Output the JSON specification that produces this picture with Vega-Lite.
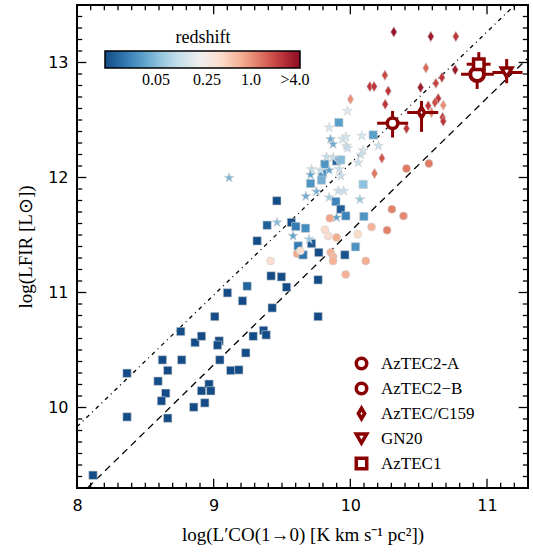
{
  "$schema": "https://vega.github.io/schema/vega-lite/v6.json",
  "autosize": "none",
  "width": 451,
  "height": 483,
  "padding": {"left": 77, "top": 5, "right": 5, "bottom": 70},
  "background": "white",
  "config": {
    "view": {"stroke": "black", "strokeWidth": 2},
    "axis": {"grid": false, "domain": false, "labelColor": "black", "titleColor": "black"}
  },
  "datasets": {
    "dotted": [{"x": 8.0, "y": 9.832}, {"x": 11.2, "y": 13.496}],
    "dashed": [{"x": 8.08, "y": 9.304}, {"x": 11.3, "y": 13.039}],
    "xt": [
      {"v": 8.1, "t": "minor"}, {"v": 8.2, "t": "minor"}, {"v": 8.3, "t": "minor"}, {"v": 8.4, "t": "minor"}, {"v": 8.5, "t": "minor"}, {"v": 8.6, "t": "minor"}, {"v": 8.7, "t": "minor"}, {"v": 8.8, "t": "minor"}, {"v": 8.9, "t": "minor"},
      {"v": 9.0, "t": "major"}, {"v": 9.1, "t": "minor"}, {"v": 9.2, "t": "minor"}, {"v": 9.3, "t": "minor"}, {"v": 9.4, "t": "minor"}, {"v": 9.5, "t": "minor"}, {"v": 9.6, "t": "minor"}, {"v": 9.7, "t": "minor"}, {"v": 9.8, "t": "minor"}, {"v": 9.9, "t": "minor"},
      {"v": 10.0, "t": "major"}, {"v": 10.1, "t": "minor"}, {"v": 10.2, "t": "minor"}, {"v": 10.3, "t": "minor"}, {"v": 10.4, "t": "minor"}, {"v": 10.5, "t": "minor"}, {"v": 10.6, "t": "minor"}, {"v": 10.7, "t": "minor"}, {"v": 10.8, "t": "minor"}, {"v": 10.9, "t": "minor"},
      {"v": 11.0, "t": "major"}, {"v": 11.1, "t": "minor"}, {"v": 11.2, "t": "minor"}
    ],
    "yt": [
      {"v": 9.4, "t": "minor"}, {"v": 9.5, "t": "minor"}, {"v": 9.6, "t": "minor"}, {"v": 9.7, "t": "minor"}, {"v": 9.8, "t": "minor"}, {"v": 9.9, "t": "minor"},
      {"v": 10.0, "t": "major"}, {"v": 10.1, "t": "minor"}, {"v": 10.2, "t": "minor"}, {"v": 10.3, "t": "minor"}, {"v": 10.4, "t": "minor"}, {"v": 10.5, "t": "minor"}, {"v": 10.6, "t": "minor"}, {"v": 10.7, "t": "minor"}, {"v": 10.8, "t": "minor"}, {"v": 10.9, "t": "minor"},
      {"v": 11.0, "t": "major"}, {"v": 11.1, "t": "minor"}, {"v": 11.2, "t": "minor"}, {"v": 11.3, "t": "minor"}, {"v": 11.4, "t": "minor"}, {"v": 11.5, "t": "minor"}, {"v": 11.6, "t": "minor"}, {"v": 11.7, "t": "minor"}, {"v": 11.8, "t": "minor"}, {"v": 11.9, "t": "minor"},
      {"v": 12.0, "t": "major"}, {"v": 12.1, "t": "minor"}, {"v": 12.2, "t": "minor"}, {"v": 12.3, "t": "minor"}, {"v": 12.4, "t": "minor"}, {"v": 12.5, "t": "minor"}, {"v": 12.6, "t": "minor"}, {"v": 12.7, "t": "minor"}, {"v": 12.8, "t": "minor"}, {"v": 12.9, "t": "minor"},
      {"v": 13.0, "t": "major"}, {"v": 13.1, "t": "minor"}, {"v": 13.2, "t": "minor"}, {"v": 13.3, "t": "minor"}, {"v": 13.4, "t": "minor"}
    ],
    "sp": [
      {"name": "AzTEC2-A", "x": 10.928, "y": 12.898, "xlo": 10.81, "xhi": 11.05, "ylo": 12.77, "yhi": 13.02},
      {"name": "AzTEC1", "x": 10.94, "y": 12.985, "xlo": 10.851, "xhi": 11.026, "ylo": 12.88, "yhi": 13.09},
      {"name": "GN20", "x": 11.144, "y": 12.913, "xlo": 11.04, "xhi": 11.26, "ylo": 12.82, "yhi": 13.03},
      {"name": "AzTEC/C159", "x": 10.521, "y": 12.565, "xlo": 10.416, "xhi": 10.643, "ylo": 12.397, "yhi": 12.666},
      {"name": "AzTEC2−B", "x": 10.309, "y": 12.472, "xlo": 10.196, "xhi": 10.423, "ylo": 12.348, "yhi": 12.579}
    ],
    "bg": [
      {"kind": "sq", "x": 8.117, "y": 9.411, "z": 0.0101},
      {"kind": "sq", "x": 8.366, "y": 10.298, "z": 0.0101},
      {"kind": "sq", "x": 8.366, "y": 9.918, "z": 0.0101},
      {"kind": "sq", "x": 8.593, "y": 10.229, "z": 0.0101},
      {"kind": "sq", "x": 8.625, "y": 10.414, "z": 0.0101},
      {"kind": "sq", "x": 8.664, "y": 10.322, "z": 0.0101},
      {"kind": "sq", "x": 8.649, "y": 10.124, "z": 0.0101},
      {"kind": "sq", "x": 8.618, "y": 10.057, "z": 0.0101},
      {"kind": "sq", "x": 8.664, "y": 9.907, "z": 0.0101},
      {"kind": "sq", "x": 8.759, "y": 10.661, "z": 0.0101},
      {"kind": "sq", "x": 8.766, "y": 10.414, "z": 0.0101},
      {"kind": "sq", "x": 8.864, "y": 10.565, "z": 0.0101},
      {"kind": "sq", "x": 8.911, "y": 10.62, "z": 0.0101},
      {"kind": "sq", "x": 8.854, "y": 10.003, "z": 0.0101},
      {"kind": "sq", "x": 8.911, "y": 10.145, "z": 0.0101},
      {"kind": "sq", "x": 8.935, "y": 10.04, "z": 0.0101},
      {"kind": "sq", "x": 8.966, "y": 10.203, "z": 0.0101},
      {"kind": "sq", "x": 8.979, "y": 10.145, "z": 0.0101},
      {"kind": "sq", "x": 9.008, "y": 10.791, "z": 0.0101},
      {"kind": "sq", "x": 9.04, "y": 10.579, "z": 0.0101},
      {"kind": "sq", "x": 9.028, "y": 10.542, "z": 0.0101},
      {"kind": "sq", "x": 9.045, "y": 10.414, "z": 0.0101},
      {"kind": "sq", "x": 9.101, "y": 10.997, "z": 0.0101},
      {"kind": "sq", "x": 9.125, "y": 10.322, "z": 0.0101},
      {"kind": "sq", "x": 9.184, "y": 10.327, "z": 0.0101},
      {"kind": "sq", "x": 9.211, "y": 10.927, "z": 0.0101},
      {"kind": "sq", "x": 9.235, "y": 10.475, "z": 0.0101},
      {"kind": "sq", "x": 9.245, "y": 11.055, "z": 0.014},
      {"kind": "sq", "x": 9.289, "y": 10.62, "z": 0.0101},
      {"kind": "sq", "x": 9.365, "y": 10.67, "z": 0.0101},
      {"kind": "sq", "x": 9.384, "y": 10.631, "z": 0.0101},
      {"kind": "sq", "x": 9.42, "y": 11.144, "z": 0.0101},
      {"kind": "sq", "x": 9.428, "y": 10.866, "z": 0.0101},
      {"kind": "sq", "x": 9.496, "y": 11.136, "z": 0.0101},
      {"kind": "sq", "x": 9.533, "y": 11.046, "z": 0.0101},
      {"kind": "sq", "x": 9.764, "y": 11.11, "z": 0.0101},
      {"kind": "sq", "x": 9.764, "y": 10.791, "z": 0.0101},
      {"kind": "sq", "x": 9.391, "y": 11.585, "z": 0.013},
      {"kind": "sq", "x": 9.569, "y": 11.609, "z": 0.011},
      {"kind": "sq", "x": 9.601, "y": 11.574, "z": 0.02},
      {"kind": "sq", "x": 9.618, "y": 11.405, "z": 0.02},
      {"kind": "sq", "x": 9.318, "y": 11.449, "z": 0.0101},
      {"kind": "sq", "x": 9.462, "y": 11.797, "z": 0.0101},
      {"kind": "sq", "x": 9.894, "y": 11.791, "z": 0.022},
      {"kind": "sq", "x": 9.93, "y": 11.724, "z": 0.013},
      {"kind": "sq", "x": 9.967, "y": 11.666, "z": 0.022},
      {"kind": "sq", "x": 10.094, "y": 11.94, "z": 0.055},
      {"kind": "sq", "x": 10.099, "y": 11.661, "z": 0.028},
      {"kind": "sq", "x": 9.672, "y": 11.559, "z": 0.025},
      {"kind": "sq", "x": 9.716, "y": 11.426, "z": 0.012},
      {"kind": "sq", "x": 9.769, "y": 11.348, "z": 0.0101},
      {"kind": "sq", "x": 9.96, "y": 11.327, "z": 0.011},
      {"kind": "sq", "x": 10.038, "y": 11.397, "z": 0.028},
      {"kind": "sq", "x": 9.916, "y": 12.478, "z": 0.033},
      {"kind": "sq", "x": 10.167, "y": 12.37, "z": 0.033},
      {"kind": "sq", "x": 9.899, "y": 12.144, "z": 0.014},
      {"kind": "sq", "x": 9.93, "y": 12.153, "z": 0.05},
      {"kind": "sq", "x": 9.813, "y": 12.116, "z": 0.028},
      {"kind": "sq", "x": 9.796, "y": 12.035, "z": 0.028},
      {"kind": "sq", "x": 9.789, "y": 11.977, "z": 0.042},
      {"kind": "sq", "x": 9.709, "y": 11.948, "z": 0.028},
      {"kind": "st", "x": 9.113, "y": 11.997, "z": 0.045},
      {"kind": "st", "x": 9.464, "y": 11.609, "z": 0.05},
      {"kind": "st", "x": 9.581, "y": 11.492, "z": 0.035},
      {"kind": "st", "x": 9.674, "y": 11.837, "z": 0.04},
      {"kind": "st", "x": 9.752, "y": 11.878, "z": 0.045},
      {"kind": "st", "x": 9.845, "y": 11.826, "z": 0.07},
      {"kind": "st", "x": 10.07, "y": 11.809, "z": 0.06},
      {"kind": "st", "x": 9.911, "y": 11.883, "z": 0.1},
      {"kind": "st", "x": 9.952, "y": 11.883, "z": 0.1},
      {"kind": "st", "x": 9.899, "y": 11.652, "z": 0.035},
      {"kind": "st", "x": 9.699, "y": 11.463, "z": 0.06},
      {"kind": "st", "x": 9.979, "y": 12.579, "z": 0.15},
      {"kind": "st", "x": 9.845, "y": 12.435, "z": 0.12},
      {"kind": "st", "x": 9.855, "y": 12.333, "z": 0.04},
      {"kind": "st", "x": 9.874, "y": 12.29, "z": 0.04},
      {"kind": "st", "x": 9.943, "y": 12.333, "z": 0.12},
      {"kind": "st", "x": 9.967, "y": 12.353, "z": 0.12},
      {"kind": "st", "x": 9.972, "y": 12.275, "z": 0.1},
      {"kind": "st", "x": 9.979, "y": 12.255, "z": 0.1},
      {"kind": "st", "x": 10.084, "y": 12.362, "z": 0.12},
      {"kind": "st", "x": 10.206, "y": 12.275, "z": 0.1},
      {"kind": "st", "x": 10.094, "y": 12.237, "z": 0.12},
      {"kind": "st", "x": 10.077, "y": 12.197, "z": 0.1},
      {"kind": "st", "x": 10.057, "y": 12.13, "z": 0.1},
      {"kind": "st", "x": 9.826, "y": 12.179, "z": 0.1},
      {"kind": "st", "x": 9.874, "y": 12.174, "z": 0.1},
      {"kind": "st", "x": 9.845, "y": 12.063, "z": 0.035},
      {"kind": "st", "x": 9.782, "y": 12.063, "z": 0.1},
      {"kind": "st", "x": 9.716, "y": 12.072, "z": 0.1},
      {"kind": "st", "x": 9.709, "y": 12.023, "z": 0.035},
      {"kind": "st", "x": 9.918, "y": 12.072, "z": 0.1},
      {"kind": "st", "x": 9.93, "y": 12.014, "z": 0.1},
      {"kind": "ci", "x": 9.611, "y": 11.337, "z": 0.8},
      {"kind": "sq", "x": 9.654, "y": 11.327, "z": 0.018},
      {"kind": "ci", "x": 9.966, "y": 11.157, "z": 0.7},
      {"kind": "ci", "x": 9.416, "y": 11.275, "z": 0.35},
      {"kind": "ci", "x": 9.85, "y": 11.646, "z": 0.8},
      {"kind": "ci", "x": 10.155, "y": 11.57, "z": 0.7},
      {"kind": "ci", "x": 10.269, "y": 11.542, "z": 1.2},
      {"kind": "ci", "x": 10.304, "y": 11.724, "z": 1.2},
      {"kind": "ci", "x": 10.389, "y": 11.666, "z": 1.1},
      {"kind": "ci", "x": 9.814, "y": 11.545, "z": 0.4},
      {"kind": "ci", "x": 9.838, "y": 11.492, "z": 0.35},
      {"kind": "ci", "x": 9.899, "y": 11.478, "z": 0.75},
      {"kind": "ci", "x": 10.055, "y": 11.507, "z": 0.4},
      {"kind": "ci", "x": 9.635, "y": 11.362, "z": 0.35},
      {"kind": "ci", "x": 9.857, "y": 11.348, "z": 0.7},
      {"kind": "ci", "x": 9.874, "y": 11.31, "z": 0.65},
      {"kind": "ci", "x": 9.874, "y": 11.275, "z": 0.7},
      {"kind": "ci", "x": 10.113, "y": 11.275, "z": 0.75},
      {"kind": "ci", "x": 10.411, "y": 12.078, "z": 1.3},
      {"kind": "ci", "x": 10.575, "y": 12.122, "z": 1.3},
      {"kind": "di", "x": 10.001, "y": 12.681, "z": 1.0},
      {"kind": "di", "x": 10.255, "y": 12.637, "z": 2.5},
      {"kind": "di", "x": 10.231, "y": 12.168, "z": 1.8},
      {"kind": "di", "x": 10.177, "y": 12.035, "z": 1.3},
      {"kind": "di", "x": 10.318, "y": 13.266, "z": 4.2},
      {"kind": "di", "x": 10.589, "y": 13.226, "z": 3.8},
      {"kind": "di", "x": 10.772, "y": 13.226, "z": 2.5},
      {"kind": "di", "x": 10.553, "y": 12.953, "z": 1.5},
      {"kind": "di", "x": 10.767, "y": 12.936, "z": 3.8},
      {"kind": "di", "x": 10.253, "y": 12.89, "z": 2.0},
      {"kind": "di", "x": 10.143, "y": 12.791, "z": 2.5},
      {"kind": "di", "x": 10.174, "y": 12.791, "z": 2.5},
      {"kind": "di", "x": 10.277, "y": 12.753, "z": 2.5},
      {"kind": "di", "x": 10.67, "y": 12.87, "z": 2.5},
      {"kind": "di", "x": 10.626, "y": 12.82, "z": 2.2},
      {"kind": "di", "x": 10.514, "y": 12.783, "z": 3.8},
      {"kind": "di", "x": 10.643, "y": 12.687, "z": 2.5},
      {"kind": "di", "x": 10.619, "y": 12.652, "z": 2.0},
      {"kind": "di", "x": 10.68, "y": 12.629, "z": 1.0},
      {"kind": "di", "x": 10.57, "y": 12.623, "z": 2.5},
      {"kind": "di", "x": 10.675, "y": 12.522, "z": 2.5},
      {"kind": "di", "x": 10.68, "y": 12.49, "z": 2.5},
      {"kind": "di", "x": 10.594, "y": 12.565, "z": 1.2},
      {"kind": "di", "x": 10.411, "y": 12.426, "z": 2.5}
    ]
  },
  "layer": [
    {
      "data": {"name": "dotted"},
      "mark": {"type": "line", "color": "black", "strokeWidth": 1.3, "strokeDash": [4, 4, 1, 4], "clip": true},
      "encoding": {
        "x": {"field": "x", "type": "quantitative", "scale": {"domain": [8, 11.3], "nice": false, "zero": false},
          "axis": {"orient": "bottom", "ticks": false, "labelFlush": false, "labelFont": "DejaVu Sans", "labelFontSize": 16, "labelPadding": 9,
            "values": [8, 9, 10, 11], "format": "d",
            "title": "log(L′CO(1→0) [K km s⁻¹ pc²])", "titleFont": "Liberation Serif", "titleFontSize": 19, "titleFontWeight": "normal", "titlePadding": 12}},
        "y": {"field": "y", "type": "quantitative", "scale": {"domain": [9.3, 13.5], "nice": false, "zero": false},
          "axis": {"orient": "left", "ticks": false, "labelFlush": false, "labelFont": "DejaVu Sans", "labelFontSize": 16, "labelPadding": 9,
            "values": [10, 11, 12, 13], "format": "d",
            "title": "log(LFIR [L⊙])", "titleFont": "Liberation Serif", "titleFontSize": 19, "titleFontWeight": "normal", "titlePadding": 12}}
      }
    },
    {
      "data": {"name": "dashed"},
      "mark": {"type": "line", "color": "black", "strokeWidth": 1.3, "strokeDash": [7, 5], "clip": true},
      "encoding": {
        "x": {"field": "x", "type": "quantitative"},
        "y": {"field": "y", "type": "quantitative"}
      }
    },
    {
      "data": {"name": "xt"},
      "transform": [{"filter": "datum.t == 'major'"}],
      "mark": {"type": "rule", "color": "black", "strokeWidth": 1.3, "clip": true},
      "encoding": {"x": {"field": "v", "type": "quantitative"}, "y": {"datum": 9.3}, "y2": {"datum": 9.38}}
    },
    {
      "data": {"name": "xt"},
      "transform": [{"filter": "datum.t == 'minor'"}],
      "mark": {"type": "rule", "color": "black", "strokeWidth": 1.3, "clip": true},
      "encoding": {"x": {"field": "v", "type": "quantitative"}, "y": {"datum": 9.3}, "y2": {"datum": 9.345}}
    },
    {
      "data": {"name": "xt"},
      "transform": [{"filter": "datum.t == 'major'"}],
      "mark": {"type": "rule", "color": "black", "strokeWidth": 1.3, "clip": true},
      "encoding": {"x": {"field": "v", "type": "quantitative"}, "y": {"datum": 13.5}, "y2": {"datum": 13.42}}
    },
    {
      "data": {"name": "xt"},
      "transform": [{"filter": "datum.t == 'minor'"}],
      "mark": {"type": "rule", "color": "black", "strokeWidth": 1.3, "clip": true},
      "encoding": {"x": {"field": "v", "type": "quantitative"}, "y": {"datum": 13.5}, "y2": {"datum": 13.455}}
    },
    {
      "data": {"name": "yt"},
      "transform": [{"filter": "datum.t == 'major'"}],
      "mark": {"type": "rule", "color": "black", "strokeWidth": 1.3, "clip": true},
      "encoding": {"y": {"field": "v", "type": "quantitative"}, "x": {"datum": 8}, "x2": {"datum": 8.068}}
    },
    {
      "data": {"name": "yt"},
      "transform": [{"filter": "datum.t == 'minor'"}],
      "mark": {"type": "rule", "color": "black", "strokeWidth": 1.3, "clip": true},
      "encoding": {"y": {"field": "v", "type": "quantitative"}, "x": {"datum": 8}, "x2": {"datum": 8.038}}
    },
    {
      "data": {"name": "yt"},
      "transform": [{"filter": "datum.t == 'major'"}],
      "mark": {"type": "rule", "color": "black", "strokeWidth": 1.3, "clip": true},
      "encoding": {"y": {"field": "v", "type": "quantitative"}, "x": {"datum": 11.3}, "x2": {"datum": 11.232}}
    },
    {
      "data": {"name": "yt"},
      "transform": [{"filter": "datum.t == 'minor'"}],
      "mark": {"type": "rule", "color": "black", "strokeWidth": 1.3, "clip": true},
      "encoding": {"y": {"field": "v", "type": "quantitative"}, "x": {"datum": 11.3}, "x2": {"datum": 11.262}}
    },
    {
      "data": {"name": "bg"},
      "mark": {"type": "point", "filled": true, "opacity": 1, "stroke": "#d0d0d0", "strokeWidth": 0.6},
      "encoding": {
        "x": {"field": "x", "type": "quantitative"},
        "y": {"field": "y", "type": "quantitative"},
        "shape": {"field": "kind", "type": "nominal", "legend": null,
          "scale": {"domain": ["sq", "st", "ci", "di"], "range": ["square", "M0,-1L0.225,-0.309L0.951,-0.309L0.363,0.118L0.588,0.809L0,0.382L-0.588,0.809L-0.363,0.118L-0.951,-0.309L-0.225,-0.309Z", "circle", "M0,-1L0.6,0L0,1L-0.6,0Z"]}},
        "size": {"field": "kind", "type": "nominal", "legend": null,
          "scale": {"type": "ordinal", "domain": ["sq", "st", "ci", "di"], "range": [70, 110, 64, 110]}},
        "color": {"field": "z", "type": "quantitative",
          "scale": {"type": "log", "domain": [0.01, 4.67], "scheme": {"name": "redblue", "extent": [1, 0]}},
          "legend": {"orient": "none", "legendX": 28, "legendY": 24, "direction": "horizontal", "gradientLength": 195, "gradientThickness": 17,
            "title": "redshift", "titleFont": "Liberation Serif", "titleFontSize": 18, "titleFontWeight": "normal", "titleAnchor": "middle", "titleOrient": "top", "titlePadding": 4, "titleColor": "black",
            "labelFont": "Liberation Serif", "labelFontSize": 16, "labelColor": "black", "labelOffset": 4,
            "values": [0.05, 0.25, 1, 4],
            "labelExpr": "datum.value >= 3.9 ? '>4.0' : datum.value == 1 ? '1.0' : format(datum.value, '.2f')",
            "gradientStrokeColor": "black", "gradientStrokeWidth": 1.5}}
      }
    },
    {
      "data": {"name": "sp"},
      "mark": {"type": "rule", "color": "#8b0000", "strokeWidth": 3},
      "encoding": {
        "x": {"field": "xlo", "type": "quantitative"},
        "x2": {"field": "xhi"},
        "y": {"field": "y", "type": "quantitative"}
      }
    },
    {
      "data": {"name": "sp"},
      "mark": {"type": "rule", "color": "#8b0000", "strokeWidth": 3},
      "encoding": {
        "x": {"field": "x", "type": "quantitative"},
        "y": {"field": "ylo", "type": "quantitative"},
        "y2": {"field": "yhi"}
      }
    },
    {
      "data": {"name": "sp"},
      "transform": [{"filter": "datum.name == 'AzTEC2-A'"}],
      "mark": {"type": "point", "shape": "circle", "size": 190, "filled": false, "fill": "white", "stroke": "#8b0000", "strokeWidth": 4, "opacity": 1},
      "encoding": {
        "x": {"field": "x", "type": "quantitative"},
        "y": {"field": "y", "type": "quantitative"}
      }
    },
    {
      "data": {"name": "sp"},
      "transform": [{"filter": "datum.name != 'AzTEC2-A'"}],
      "mark": {"type": "point", "size": 110, "filled": false, "fill": "white", "stroke": "#8b0000", "strokeWidth": 3.5, "opacity": 1},
      "encoding": {
        "x": {"field": "x", "type": "quantitative"},
        "y": {"field": "y", "type": "quantitative"},
        "shape": {"field": "name", "type": "nominal",
          "scale": {"domain": ["AzTEC2-A", "AzTEC2−B", "AzTEC/C159", "GN20", "AzTEC1"], "range": ["circle", "circle", "M0,-1L0.6,0L0,1L-0.6,0Z", "triangle-down", "square"]},
          "legend": {"orient": "none", "legendX": 276, "legendY": 350, "title": null, "labelFont": "Liberation Serif", "labelFontSize": 17, "labelColor": "black", "labelOffset": 11, "rowPadding": 0, "symbolSize": 110, "symbolStrokeWidth": 3.5, "symbolOpacity": 1}}
      }
    }
  ],
  "resolve": {
    "scale": {"shape": "independent", "size": "independent"}
  }
}
